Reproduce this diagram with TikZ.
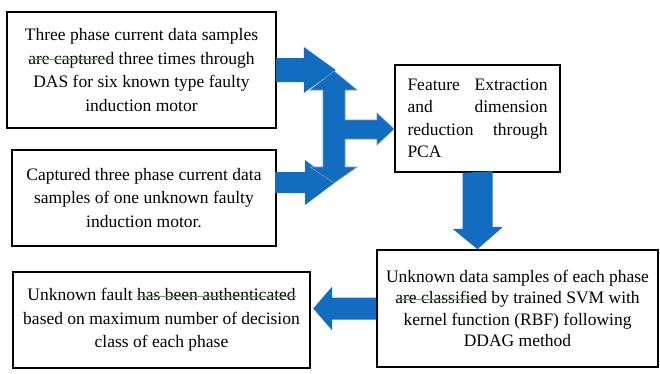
\documentclass[tikz,border=0pt]{standalone}
\usepackage{fontspec}
\setmainfont{Liberation Serif}
\newfontfamily{\timesfont}{Liberation Serif}
\usetikzlibrary{calc}
\definecolor{arrowblue}{RGB}{18,108,192}
\definecolor{edgeblue}{RGB}{120,150,190}
\definecolor{trackgreen}{RGB}{90,170,90}
\newlength{\trackw}
\newcommand{\tracked}[1]{\settowidth{\trackw}{#1}#1\llap{\textcolor{trackgreen}{\rule[0.5ex]{\trackw}{0.8pt}}}}
\begin{document}
\begin{tikzpicture}[x=1pt,y=-1pt]

      \tikzset{box/.style={draw, line width=1.6pt, inner sep=0pt, align=center, font=\timesfont\fontsize{17.5}{23.5}\selectfont},
               barrow/.style={fill=arrowblue}}
      \useasboundingbox (0,0) rectangle (660,373);
%% Boxes
      \node[box, minimum width=269pt, minimum height=116pt] (known) at (141.5,70)
          {Three phase current data samples\\ \tracked{are captured} three times through\\ DAS for six known type faulty\\ induction motor};
      \node[box, minimum width=264pt, minimum height=96pt] (unknown) at (144,198)
          {Captured three phase current data\\ samples of one unknown faulty\\ induction motor.};
      \node[box, minimum width=165pt, minimum height=107pt, text width=140pt, align=left,
            font=\timesfont\fontsize{17.5}{22.5}\selectfont] (pca) at (477.5,118.5)
          {Feature\hfill Extraction\\ and\hfill dimension\\ reduction\hfill through\\ PCA};
      \node[box, minimum width=281pt, minimum height=117pt, font=\timesfont\fontsize{17.5}{21.5}\selectfont] (svm) at (517.5,308.5)
          {Unknown data samples of each phase\\ \tracked{are classified} by trained SVM with\\ kernel function (RBF) following\\ DDAG method};
      \node[box, minimum width=297pt, minimum height=96pt] (result) at (161.5,320)
          {Unknown fault \tracked{has been authenticated}\\ based on maximum number of decision\\ class of each phase};
%Arrows
      \fill[barrow] ($(known.east)+(-1,-12)$) -- ++(28,0) -- ++(0,-11) -- ++(32,23) -- ++(-32,23) -- ++(0,-11) -- ++(-28,0) -- cycle;
      \fill[barrow] (275,172) -- ++(30,0) -- ++(0,-12) -- ++(30,22.5) -- ++(-30,22.5) -- ++(0,-12) -- ++(-30,0) -- cycle;
      \filldraw[barrow, draw=edgeblue, line width=0.6pt] (323,90) -- (310,90) -- (334,71) -- (357,90) -- (345,90)
          -- (345,120) -- (377,120) -- (377,113) -- (394,129) -- (377,145) -- (377,139) -- (345,139)
          -- (345,167) -- (357,167) -- (334,183) -- (310,167) -- (323,167) -- cycle;
      \fill[barrow] ($(pca.south)+(-15,0)$) -- ++(0,56) -- ++(-10,0) -- (pca.south |- svm.north) -- ++(25,-22) -- ++(-10,0) -- ++(0,-56) -- cycle;
      \fill[barrow] ($(svm.west)+(0,-11)$) -- ++(-44,0) -- ++(0,-11) -- ++(-19,22) -- ++(19,22) -- ++(0,-11) -- ++(44,0) -- cycle;

\end{tikzpicture}
\end{document}
